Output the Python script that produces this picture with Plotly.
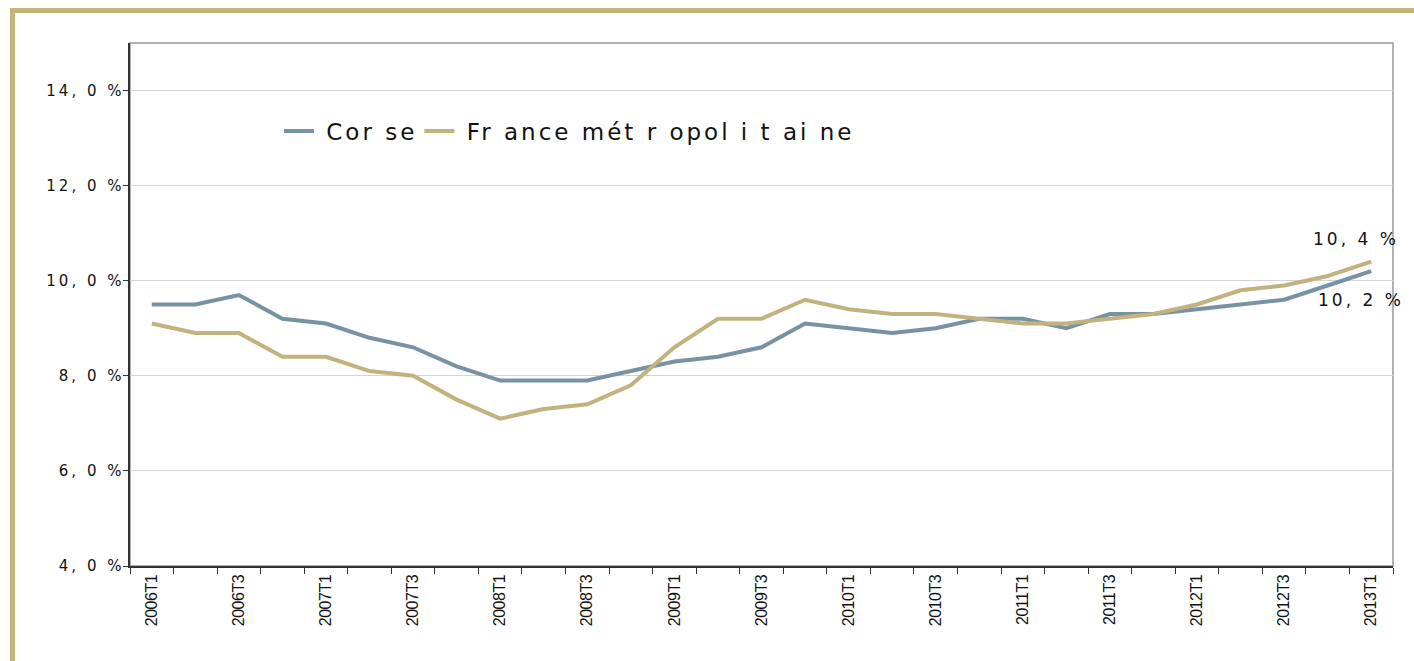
import plotly.graph_objects as go

quarters = [f"{y}T{q}" for y in range(2006, 2013) for q in range(1, 5)] + ["2013T1"]
corse = [9.5, 9.5, 9.7, 9.2, 9.1, 8.8, 8.6, 8.2, 7.9, 7.9, 7.9, 8.1, 8.3, 8.4, 8.6, 9.1,
         9.0, 8.9, 9.0, 9.2, 9.2, 9.0, 9.3, 9.3, 9.4, 9.5, 9.6, 9.9, 10.2]
france = [9.1, 8.9, 8.9, 8.4, 8.4, 8.1, 8.0, 7.5, 7.1, 7.3, 7.4, 7.8, 8.6, 9.2, 9.2, 9.6,
          9.4, 9.3, 9.3, 9.2, 9.1, 9.1, 9.2, 9.3, 9.5, 9.8, 9.9, 10.1, 10.4]
ytick_vals = [4, 6, 8, 10, 12, 14]
ytick_text = ["4, 0 %", "6, 0 %", "8, 0 %", "10, 0 %", "12, 0 %", "14, 0 %"]
series_names = ["Cor se", "Fr ance mét r opol i t ai ne"]
end_labels = ["10, 2 %", "10, 4 %"]

W, H = 1414, 661
L, R, T, B = 130, 1393, 43, 566


def px(x):
    return (x - L) / (R - L)


def py(y):
    return (B - y) / (B - T)


def spaced(s, ls, tail=0):
    # letter spacing on all but the last glyph; optional tail spacing for the last one
    return (f'<span style="letter-spacing:{ls}px">{s[:-1]}</span>'
            f'<span style="letter-spacing:{tail}px">{s[-1]}</span>')


xs = list(range(len(quarters)))
BLUE = "#7692a3"
TAN = "#c2b27e"
FRAME = "#c5b27c"
WIDE = "DejaVu Sans, Verdana, sans-serif"

fig = go.Figure()
fig.add_trace(go.Scatter(x=xs, y=corse, mode="lines",
                         name="\u00a0" + spaced(series_names[0], 3),
                         line=dict(color=BLUE, width=4)))
fig.add_trace(go.Scatter(x=xs, y=france, mode="lines",
                         name="\u00a0" + spaced(series_names[1], 3),
                         line=dict(color=TAN, width=4)))

shapes = [
    dict(type="rect", xref="paper", yref="paper", x0=0, x1=1, y0=0, y1=1,
         line=dict(color="#999999", width=1.5), layer="below"),
    dict(type="line", xref="paper", yref="paper", x0=px(10), x1=px(1420), y0=py(10.5), y1=py(10.5),
         line=dict(color=FRAME, width=5)),
    dict(type="line", xref="paper", yref="paper", x0=px(12.5), x1=px(12.5), y0=py(8), y1=py(670),
         line=dict(color=FRAME, width=5)),
]

annotations = [
    dict(x=xs[-1], y=corse[-1], xref="x", yref="y", text=spaced(end_labels[0], 3), showarrow=False,
         xshift=-12, yshift=-29, font=dict(size=17, family=WIDE, color="#111111")),
    dict(x=xs[-1], y=france[-1], xref="x", yref="y", text=spaced(end_labels[1], 3), showarrow=False,
         xshift=-17, yshift=23, font=dict(size=17, family=WIDE, color="#111111")),
]

fig.update_layout(
    width=W, height=H,
    margin=dict(l=L, r=W - R, t=T, b=H - B),
    paper_bgcolor="white", plot_bgcolor="white",
    font=dict(family="Liberation Sans, Arial, sans-serif", color="#111111"),
    showlegend=True,
    legend=dict(orientation="h", x=px(279), y=py(131), xanchor="left", yanchor="middle",
                font=dict(size=23, family=WIDE, color="#111111"), bgcolor="rgba(0,0,0,0)",
                itemwidth=30, tracegroupgap=0),
    shapes=shapes,
    annotations=annotations,
)

fig.update_xaxes(
    range=[-0.5, len(quarters) - 0.5],
    tickvals=xs[::2], ticktext=[spaced(q, -0.5) for q in quarters[::2]], tickangle=-90,
    ticks="", showgrid=False, zeroline=False,
    showline=True, linecolor="#333333", linewidth=2,
    tickfont=dict(size=16, color="#111111"),
    minor=dict(tickvals=[i - 0.5 for i in range(len(quarters) + 1)], ticks="outside",
               ticklen=6, tickcolor="#333333", tickwidth=1, showgrid=False),
)
fig.update_yaxes(
    range=[4, 15], tickvals=ytick_vals, ticktext=[spaced(t, 3, -1.5) for t in ytick_text],
    ticks="outside", ticklen=5, tickcolor="#333333",
    showgrid=True, gridcolor="#d4d4d4", gridwidth=1, zeroline=False,
    showline=True, linecolor="#333333", linewidth=2,
    tickfont=dict(size=15, family=WIDE, color="#111111"),
)

fig.write_html("out.html", config={"displayModeBar": False},
               post_script="document.body.style.margin='0px';")
